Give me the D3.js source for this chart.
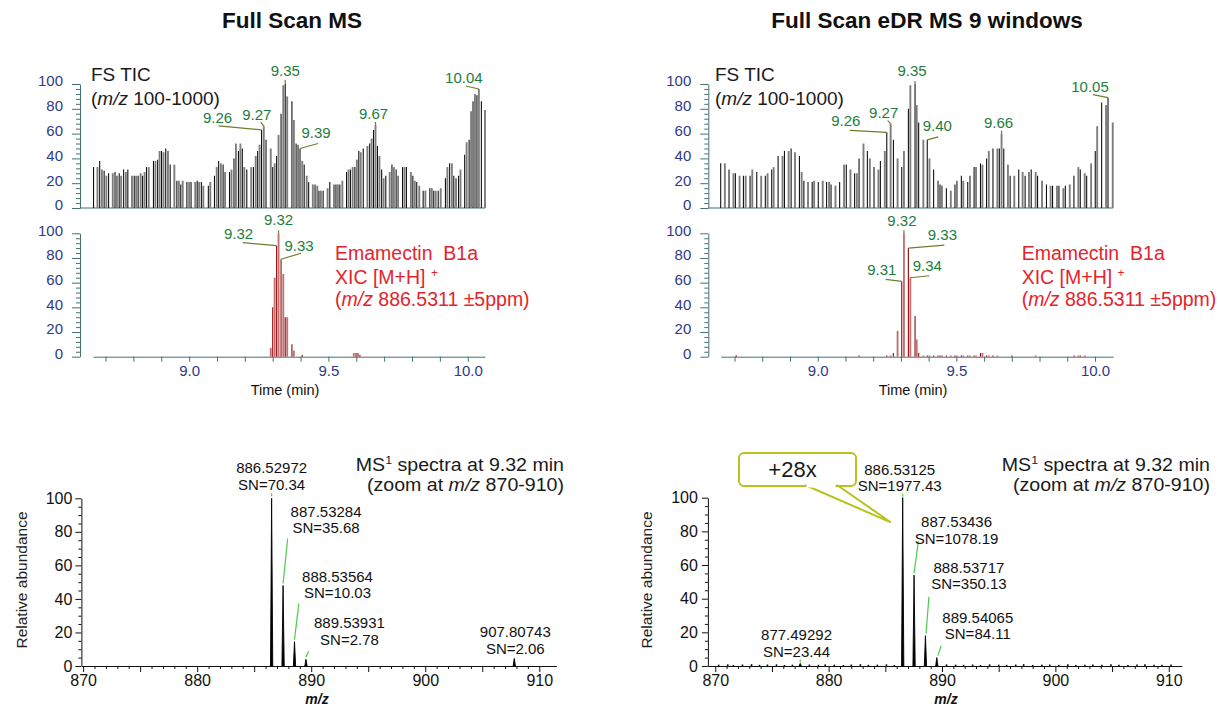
<!DOCTYPE html>
<html><head><meta charset="utf-8">
<script src="https://cdn.jsdelivr.net/npm/d3@7"></script>
<style>
body{margin:0;background:#fff;}
svg{font-family:"Liberation Sans",Arial,Helvetica,sans-serif;}
</style></head><body>
<svg id="chart" width="1220" height="707"></svg>
<script>
// ===================== DATA =====================
// Top-left: Full Scan MS, TIC (time in min, relative intensity %)
const ticLeftTime = [8.657,8.671,8.679,8.687,8.695,8.703,8.711,8.726,8.734,8.741,8.749,8.756,8.765,8.773,8.780,8.795,8.803,8.810,8.817,8.826,8.833,8.840,8.847,8.855,8.872,8.879,8.887,8.894,8.901,8.908,8.916,8.924,8.932,8.947,8.956,8.963,8.970,8.977,8.992,9.000,9.007,9.022,9.029,9.036,9.044,9.051,9.069,9.076,9.091,9.099,9.106,9.114,9.122,9.129,9.145,9.152,9.161,9.168,9.177,9.184,9.191,9.198,9.207,9.223,9.231,9.239,9.246,9.253,9.260,9.268,9.276,9.293,9.300,9.307,9.314,9.321,9.330,9.338,9.345,9.352,9.369,9.376,9.384,9.391,9.398,9.406,9.413,9.422,9.429,9.444,9.452,9.460,9.466,9.473,9.481,9.497,9.505,9.520,9.527,9.534,9.541,9.550,9.565,9.572,9.579,9.587,9.595,9.602,9.609,9.616,9.625,9.640,9.648,9.655,9.662,9.669,9.676,9.683,9.691,9.698,9.706,9.720,9.728,9.735,9.743,9.750,9.766,9.773,9.780,9.796,9.803,9.810,9.817,9.826,9.840,9.848,9.864,9.871,9.878,9.885,9.894,9.903,9.920,9.927,9.935,9.943,9.950,9.958,9.967,9.974,9.989,9.996,10.005,10.012,10.019,10.026,10.033,10.040,10.049,10.062];
const ticLeftInt = [33,33,38,31,30,26,28,28,29,26,28,26,31,29,31,26,26,26,26,28,26,29,33,33,38,38,39,46,46,45,48,46,35,35,22,22,19,22,21,21,21,21,22,21,21,18,18,21,26,33,38,36,35,29,29,31,40,52,46,52,48,33,31,33,33,42,46,51,63,66,55,48,33,36,42,59,76,99,100,90,86,71,52,51,48,38,35,26,21,19,19,18,14,14,14,16,21,19,19,19,19,22,29,31,31,33,33,39,46,45,48,50,52,56,63,67,50,42,31,24,26,29,35,33,31,26,33,33,33,29,26,22,21,18,14,14,16,16,14,14,14,16,24,33,36,36,26,24,26,31,43,53,55,78,86,92,91,96,86,79];
const ticLeftLabelTime = [9.260,9.268,9.345,9.398,9.669,10.040];
const ticLeftLabelText = ["9.26","9.27","9.35","9.39","9.67","10.04"];

// Middle-left: XIC
const xicLeftTime = [9.293,9.300,9.307,9.314,9.321,9.330,9.338,9.345,9.352,9.369,9.376,9.406,9.591,9.599,9.606,9.613];
const xicLeftInt = [7,40,64,90,100,79,67,32,32,10,5,1.5,3,3,3,1.5];
const xicLeftLabelTime = [9.321,9.314,9.330];
const xicLeftLabelText = ["9.32","9.32","9.33"];

// Top-right: Full Scan eDR MS, TIC
const ticRightTime = [8.650,8.665,8.680,8.696,8.703,8.718,8.732,8.740,8.756,8.764,8.780,8.796,8.811,8.819,8.834,8.841,8.857,8.873,8.880,8.895,8.904,8.918,8.934,8.942,8.950,8.965,8.980,8.987,9.002,9.018,9.032,9.041,9.048,9.064,9.079,9.095,9.103,9.118,9.133,9.141,9.149,9.165,9.179,9.188,9.203,9.219,9.226,9.242,9.249,9.263,9.273,9.288,9.303,9.311,9.327,9.334,9.351,9.357,9.364,9.381,9.395,9.403,9.418,9.434,9.441,9.448,9.464,9.480,9.495,9.502,9.518,9.525,9.541,9.549,9.564,9.571,9.587,9.594,9.609,9.617,9.632,9.648,9.655,9.663,9.671,9.686,9.694,9.709,9.725,9.739,9.748,9.762,9.770,9.786,9.793,9.809,9.825,9.840,9.847,9.863,9.870,9.886,9.893,9.909,9.924,9.940,9.947,9.963,9.970,9.986,10.001,10.008,10.024,10.040,10.047,10.064];
const ticRightInt = [36,36,31,28,28,26,26,26,26,31,29,26,26,28,31,33,42,42,46,46,48,45,42,29,22,21,21,22,21,22,21,21,19,18,21,35,35,31,28,28,40,52,46,40,33,31,38,46,61,68,55,40,33,46,80,99,100,83,69,55,55,40,31,22,19,18,16,14,19,22,26,22,21,26,33,33,36,35,40,46,48,48,48,60,48,35,26,26,31,29,26,29,31,29,26,22,19,18,18,18,18,16,18,19,26,33,31,28,26,36,46,66,85,83,89,69];
const ticRightLabelTime = [9.249,9.263,9.351,9.395,9.663,10.047];
const ticRightLabelText = ["9.26","9.27","9.35","9.40","9.66","10.05"];

// Middle-right: XIC
const xicRightTime = [8.706,9.149,9.249,9.263,9.273,9.288,9.303,9.311,9.327,9.334,9.351,9.357,9.364,9.381,9.395,9.403,9.418,9.434,9.441,9.448,9.464,9.480,9.495,9.502,9.518,9.525,9.541,9.549,9.564,9.571,9.587,9.594,9.609,9.617,9.632,9.648,9.700,9.786,9.925,9.940,9.947,9.963];
const xicRightInt = [1.2,1.2,1,1,3,21,61,100,88,64,33,14,3,1,1,1,1,1,1,1,1,1,1,1,1,1,1,1,1,1,3,3,1,1,1,1,1,1,1,1,1,1];
const xicRightLabelTime = [9.311,9.327,9.303,9.334];
const xicRightLabelText = ["9.32","9.33","9.31","9.34"];

// Bottom: MS1 spectra
const msLeftMz = [886.52972,887.53284,888.53564,889.53931,907.80743];
const msLeftInt = [100,48,14.5,4,4.5];
const msLeftSN = ["70.34","35.68","10.03","2.78","2.06"];
const msRightMz = [877.49292,886.53125,887.53436,888.53717,889.54065];
const msRightInt = [1.5,100,54,18,5];
const msRightSN = ["23.44","1977.43","1078.19","350.13","84.11"];
const msRightNoiseMz = [870.3,871.1,871.6,872.4,873.2,873.9,874.6,875.4,876.1,876.8,878.3,879.1,879.7,880.5,881.3,882.0,882.8,883.5,884.3,885.1,885.8,890.4,891.2,891.9,892.7,893.4,894.2,895.0,895.7,896.5,897.2,898.0,898.8,899.5,900.3,901.1,901.8,902.6,903.3,904.1,904.9,905.6,906.4,907.2,907.9,908.7,909.4,910.2];
const msRightNoiseInt = [0.8,1.0,0.6,0.9,1.1,0.7,0.9,1.0,0.6,0.8,0.9,0.7,1.0,0.8,0.6,0.9,1.1,0.7,0.8,1.0,0.6,1.0,0.8,0.7,0.9,0.6,1.0,0.8,0.7,0.9,1.1,0.6,0.8,0.9,0.7,1.0,0.6,0.8,0.9,0.7,1.0,0.8,0.6,0.9,1.0,0.7,0.8,0.9];

// Ticks
const chromYTicks = [0,20,40,60,80,100];
const chromYMinor = [4,8,12,16,24,28,32,36,44,48,52,56,64,68,72,76,84,88,92,96];
const timeTicks = [8.7,8.8,8.9,9.0,9.1,9.2,9.3,9.4,9.5,9.6,9.7,9.8,9.9,10.0];
const timeTickLabels = {"9.0":"9.0","9.5":"9.5","10.0":"10.0"};
const specYTicks = [0,20,40,60,80,100];
const specYMinor = [5,10,15,25,30,35,45,50,55,65,70,75,85,90,95];
const mzTicks = [870,880,890,900,910];
const mzMid = [875,885,895,905];
const mzMinor = [871,872,873,874,876,877,878,879,881,882,883,884,886,887,888,889,891,892,893,894,896,897,898,899,901,902,903,904,906,907,908,909];

// ===================== LAYOUT / STYLE =====================
const navy="#2f3a86", teal="#44706f", green="#1e7c3c", olive="#6f7d2b", red="#e5232c", lime="#4ccb4c", callout="#b8c31c";
const svg = d3.select("#chart");

// label layout: [textDx, textDy(center), leaderDx, leaderDy] relative to bar top
const ticLeftLabelPos = [[-44,-12,-43,-4],[-7,-11,-3,-4],[0,-13,0,-4],[16,-15,18,-5],[-2,-11,0,-3],[-15,-11,-13,-3]];
const xicLeftLabelPos = [[0,-13,0,-3],[-38,-12,-34,-3],[18,-13,20,-6]];
const ticRightLabelPos = [[-41,-11,-37,-2],[-7,-11,-3,-3],[-3,-13,0,-3],[10,-14,11,-3],[-3,-11,0,-3],[-18,-11,-15,-3]];
const xicRightLabelPos = [[-2,-12,0,-3],[34,-13,36,-3],[-20,-11,-16,-2],[17,-12,19,-2]];

function styleAxis(sel, lineColor, textColor, fs){
  sel.attr("font-family",null).attr("font-size",null);
  sel.select(".domain").attr("stroke",lineColor);
  sel.selectAll(".tick line").attr("stroke",lineColor);
  sel.selectAll(".tick text").attr("fill",textColor).attr("font-size",fs);
}

function drawChrom(o){
  const g = svg.append("g");
  const x = d3.scaleLinear().domain(o.domain).range(o.range);
  const y = d3.scaleLinear().domain([0,100]).range(o.yRange);
  const ya = g.append("g").attr("transform",`translate(${o.axisX},0)`)
    .call(d3.axisLeft(y).tickValues(chromYTicks).tickSize(8).tickSizeOuter(0).tickPadding(9));
  styleAxis(ya, teal, navy, 15);
  ya.selectAll(".tick text").attr("dy","0.12em");
  const ym = g.append("g").attr("transform",`translate(${o.axisX},0)`)
    .call(d3.axisLeft(y).tickValues(chromYMinor).tickSize(4).tickFormat(""));
  ym.select(".domain").remove(); ym.selectAll("line").attr("stroke",teal);
  if(o.kind==="tic"){
    g.append("line").attr("x1",o.axisX).attr("x2",o.range[1]).attr("y1",y(0)).attr("y2",y(0))
      .attr("stroke",teal).attr("stroke-width",1);
  } else {
    const xa = g.append("g").attr("transform",`translate(0,${y(0)})`)
      .call(d3.axisBottom(x).tickValues(timeTicks).tickSize(5).tickSizeOuter(0).tickPadding(4)
        .tickFormat(d=>timeTickLabels[d.toFixed(1)]||""));
    styleAxis(xa, teal, navy, 15);
    g.append("text").attr("x",o.timeLabelX).attr("y",395).attr("text-anchor","middle")
      .attr("font-size",14.5).attr("fill","#111").text("Time (min)");
  }
  const data = d3.zip(o.times,o.values);
  g.selectAll("line.bar").data(data).join("line").attr("class","bar")
    .attr("x1",d=>x(d[0])).attr("x2",d=>x(d[0]))
    .attr("y1",y(0)).attr("y2",d=>y(d[1]))
    .attr("stroke",(d,i)=>o.colors[i%2]).attr("stroke-width",(d,i)=>o.widths[i%2]);
  o.labelTime.forEach((t,i)=>{
    const v = o.values[o.times.indexOf(t)];
    const px = x(t), py = y(v);
    const p = o.labelPos[i];
    g.append("line").attr("x1",px).attr("y1",py).attr("x2",px+p[2]).attr("y2",py+p[3])
      .attr("stroke",olive).attr("stroke-width",1.2);
    g.append("text").attr("x",px+p[0]).attr("y",py+p[1]+5).attr("text-anchor","middle")
      .attr("font-size",15).attr("fill",green).text(o.labelText[i]);
  });
  return g;
}

function ticTitle(x){
  svg.append("text").attr("x",x).attr("y",81).attr("font-size",19).attr("fill","#1a1a1a").text("FS TIC");
  const t = svg.append("text").attr("x",x).attr("y",105).attr("font-size",19).attr("fill","#1a1a1a");
  t.append("tspan").text("(");
  t.append("tspan").attr("font-style","italic").text("m/z");
  t.append("tspan").text(" 100-1000)");
}
function xicTitle(x){
  const fs = 19.5;
  svg.append("text").attr("x",x).attr("y",260).attr("font-size",fs).attr("fill",red)
    .style("white-space","pre").text("Emamectin  B1a");
  const t2 = svg.append("text").attr("x",x).attr("y",284).attr("font-size",fs).attr("fill",red).style("white-space","pre");
  t2.append("tspan").text("XIC [M+H] ");
  t2.append("tspan").attr("font-size",12).attr("dy",-7).text("+");
  const t3 = svg.append("text").attr("x",x).attr("y",306).attr("font-size",fs).attr("fill",red);
  t3.append("tspan").text("(");
  t3.append("tspan").attr("font-style","italic").text("m/z");
  t3.append("tspan").text(" 886.5311 \u00b15ppm)");
}

// Titles
svg.append("text").attr("x",292).attr("y",28).attr("text-anchor","middle").attr("font-size",22.5)
  .attr("font-weight","bold").attr("fill","#111").text("Full Scan MS");
svg.append("text").attr("x",927).attr("y",28).attr("text-anchor","middle").attr("font-size",22.5)
  .attr("font-weight","bold").attr("fill","#111").text("Full Scan eDR MS 9 windows");

drawChrom({kind:"tic",times:ticLeftTime,values:ticLeftInt,domain:[8.655,10.062],range:[93,485],yRange:[208,84],
  axisX:80,colors:["#111","#7d7d7d"],widths:[1.1,1.9],labelTime:ticLeftLabelTime,labelText:ticLeftLabelText,labelPos:ticLeftLabelPos});
drawChrom({kind:"xic",times:xicLeftTime,values:xicLeftInt,domain:[8.655,10.062],range:[93,485],yRange:[356.7,233.3],
  axisX:80,colors:["#c27272","#9a1a1a"],widths:[1.9,1.2],labelTime:xicLeftLabelTime,labelText:xicLeftLabelText,labelPos:xicLeftLabelPos,timeLabelX:285});
ticTitle(91); xicTitle(335);

drawChrom({kind:"tic",times:ticRightTime,values:ticRightInt,domain:[8.65,10.065],range:[720.7,1113],yRange:[208,84],
  axisX:708.3,colors:["#111","#7d7d7d"],widths:[1.1,1.9],labelTime:ticRightLabelTime,labelText:ticRightLabelText,labelPos:ticRightLabelPos});
drawChrom({kind:"xic",times:xicRightTime,values:xicRightInt,domain:[8.65,10.065],range:[720.7,1113],yRange:[356.7,233.3],
  axisX:708.3,colors:["#9a1a1a","#c27272"],widths:[1.2,1.9],labelTime:xicRightLabelTime,labelText:xicRightLabelText,labelPos:xicRightLabelPos,timeLabelX:913});
ticTitle(715); xicTitle(1021.7);

// ===================== SPECTRA =====================
const msLeftLabelPos = [[0,-30,0,-2,0,-5],[43,-74,0,-2,4.6,-47],[43,-65,0,-2,4.3,-38],[43.5,-36,0,-2,2.6,-8],[1,-26,null]];
const msRightLabelPos = [[-3.7,-28,0,-1,0,-4],[-3,-28,0,-1,0,-4],[42.5,-53,0,-2,4.3,-34],[43.5,-68,0.6,-2,3.5,-39],[41,-40,1,-2,4.5,-12]];

function drawSpectrum(o){
  const g = svg.append("g");
  const x = d3.scaleLinear().domain(o.domain).range(o.range);
  const y = d3.scaleLinear().domain([0,100]).range([666,o.y100]);
  const ya = g.append("g").attr("transform",`translate(${o.range[0]},0)`)
    .call(d3.axisLeft(y).tickValues(specYTicks).tickSize(6).tickSizeOuter(0).tickPadding(o.ypad));
  styleAxis(ya,"#111","#111",16);
  const ym = g.append("g").attr("transform",`translate(${o.range[0]},0)`)
    .call(d3.axisLeft(y).tickValues(specYMinor).tickSize(3).tickFormat(""));
  ym.select(".domain").remove(); ym.selectAll("line").attr("stroke","#111");
  const xa = g.append("g").attr("transform",`translate(0,666)`)
    .call(d3.axisBottom(x).tickValues(mzTicks).tickSize(6).tickSizeOuter(0).tickPadding(3).tickFormat(d3.format("d")));
  styleAxis(xa,"#111","#111",16);
  const xm = g.append("g").attr("transform",`translate(0,666)`)
    .call(d3.axisBottom(x).tickValues(mzMid).tickSize(6).tickFormat(""));
  xm.select(".domain").remove(); xm.selectAll("line").attr("stroke","#111");
  const xn = g.append("g").attr("transform",`translate(0,666)`)
    .call(d3.axisBottom(x).tickValues(mzMinor).tickSize(3).tickFormat(""));
  xn.select(".domain").remove(); xn.selectAll("line").attr("stroke","#111");
  g.append("text").attr("transform",`translate(${o.ylabX},580) rotate(-90)`).attr("text-anchor","middle")
    .attr("font-size",15.5).attr("fill","#222").text("Relative abundance");
  g.append("text").attr("x",o.mzLabelX).attr("y",704).attr("text-anchor","middle").attr("font-size",14)
    .attr("font-style","italic").attr("font-weight","bold").attr("fill","#111").text("m/z");
  if(o.noiseMz){
    g.selectAll("line.noise").data(d3.zip(o.noiseMz,o.noiseInt)).join("line").attr("class","noise")
      .attr("x1",d=>x(d[0])).attr("x2",d=>x(d[0])).attr("y1",y(0)).attr("y2",d=>y(d[1]))
      .attr("stroke","#111").attr("stroke-width",1.6);
  }
  const hw = 0.1;
  g.selectAll("path.peak").data(d3.zip(o.mz,o.int)).join("path").attr("class","peak")
    .attr("d",d=>`M${x(d[0]-hw)},${y(0)}L${x(d[0])},${y(d[1])}L${x(d[0]+hw)},${y(0)}Z`)
    .attr("fill","#000").attr("stroke","#000").attr("stroke-width",0.9);
  o.mz.forEach((m,i)=>{
    const px = x(m), py = y(o.int[i]);
    const p = o.labelPos[i];
    if(p[2]!==null && p[2]!==undefined){
      g.append("line").attr("x1",px+p[2]).attr("y1",py+p[3]).attr("x2",px+p[4]).attr("y2",py+p[5])
        .attr("stroke",lime).attr("stroke-width",1.2);
    }
    g.append("text").attr("x",px+p[0]).attr("y",py+p[1]+5).attr("text-anchor","middle")
      .attr("font-size",15).attr("fill","#111").text(m.toFixed(5));
    g.append("text").attr("x",px+p[0]).attr("y",py+p[1]+5+16.5).attr("text-anchor","middle")
      .attr("font-size",15).attr("fill","#111").text("SN="+o.sn[i]);
  });
  // title: two lines, slightly widened to match the reference lettering
  const tg = g.append("g").attr("transform",`translate(${o.titleX},0) scale(1.12,1)`);
  const t1 = tg.append("text").attr("x",0).attr("y",471).attr("text-anchor","end").attr("font-size",17.5).attr("fill","#1a1a1a");
  t1.append("tspan").text("MS");
  t1.append("tspan").attr("font-size",11).attr("dy",-7).text("1");
  t1.append("tspan").attr("dy",7).text(" spectra at 9.32 min");
  const t2 = tg.append("text").attr("x",0).attr("y",491.5).attr("text-anchor","end").attr("font-size",17.5).attr("fill","#1a1a1a").style("white-space","pre");
  t2.append("tspan").text("(zoom at ");
  t2.append("tspan").attr("font-style","italic").text("m/z");
  t2.append("tspan").text(" 870-910)");
  return {g,x,y};
}

drawSpectrum({mz:msLeftMz,int:msLeftInt,sn:msLeftSN,labelPos:msLeftLabelPos,domain:[869.85,911.5],range:[81.4,556.4],
  y100:498.3,ypad:3,ylabX:27,mzLabelX:317,titleX:564});
drawSpectrum({mz:msRightMz,int:msRightInt,sn:msRightSN,labelPos:msRightLabelPos,domain:[869.35,911.15],range:[707.9,1181.8],
  y100:497.7,ypad:4,ylabX:652,mzLabelX:946,titleX:1210,noiseMz:msRightNoiseMz,noiseInt:msRightNoiseInt});

// Callout "+28x"
const cg = svg.append("g");
cg.append("path").attr("d","M805,485 L890.7,522.3 L837,485").attr("fill","#fff").attr("stroke",callout).attr("stroke-width",2);
cg.append("rect").attr("x",739).attr("y",453).attr("width",117).attr("height",33).attr("rx",5)
  .attr("fill","none").attr("stroke",callout).attr("stroke-width",2);
cg.append("rect").attr("x",806.5).attr("y",483.5).attr("width",29).attr("height",4).attr("fill","#fff");
cg.append("text").attr("x",792.5).attr("y",477).attr("text-anchor","middle").attr("font-size",22).attr("fill","#1a1a1a").text("+28x");
</script>
</body></html>
